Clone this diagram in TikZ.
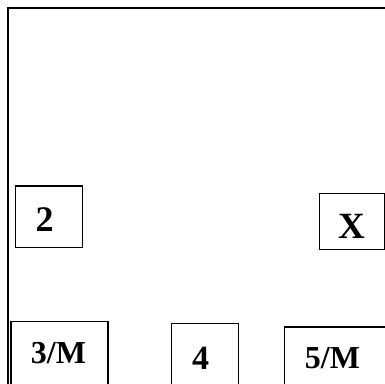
\documentclass[tikz,border=0pt]{standalone}
\usepackage{fontspec}
\setmainfont{Liberation Serif}
\begin{document}
\begin{tikzpicture}[x=1pt,y=-1pt,
  box/.style={draw=black,line width=1.4pt,inner sep=0pt,anchor=north west,fill=none},
  lbl/.style={inner sep=0pt,anchor=base,font=\bfseries}]
\useasboundingbox (0,0) rectangle (385,383);
\clip (0,0) rectangle (385,383);
% outer frame
\coordinate (fc) at (8,8);
\coordinate (fr) at (400,8);
\coordinate (fb) at (8,400);
\draw[line width=1.9pt] (fr) -- (fc) -- (fb);
% boxes
\node[box,minimum width=67.3pt,minimum height=61.7pt] (b2) at (14.7,185.3) {};
\node[box,minimum width=65.3pt,minimum height=56pt] (bx) at (318.7,192.7) {};
\node[box,minimum width=97pt,minimum height=90pt] (b3) at (10.3,321) {};
\node[box,minimum width=67.3pt,minimum height=90pt] (b4) at (170.7,322.7) {};
\node[box,minimum width=120pt,minimum height=90pt] (b5) at (284,326.3) {};
% labels
\node[lbl,font=\bfseries\fontsize{36}{40}\selectfont] (t2) at (44.5,231) {2};
\node[lbl,font=\bfseries\fontsize{37}{40}\selectfont] (tx) at (352,238.3) {X};
\node[lbl,font=\bfseries\fontsize{32}{38}\selectfont] (t3) at (58.5,363.3) {3/M};
\node[lbl,font=\bfseries\fontsize{34}{38}\selectfont] (t4) at (200.5,369.3) {4};
\node[lbl,font=\bfseries\fontsize{32}{38}\selectfont] (t5) at (332.5,368.3) {5/M};
\end{tikzpicture}
\end{document}
